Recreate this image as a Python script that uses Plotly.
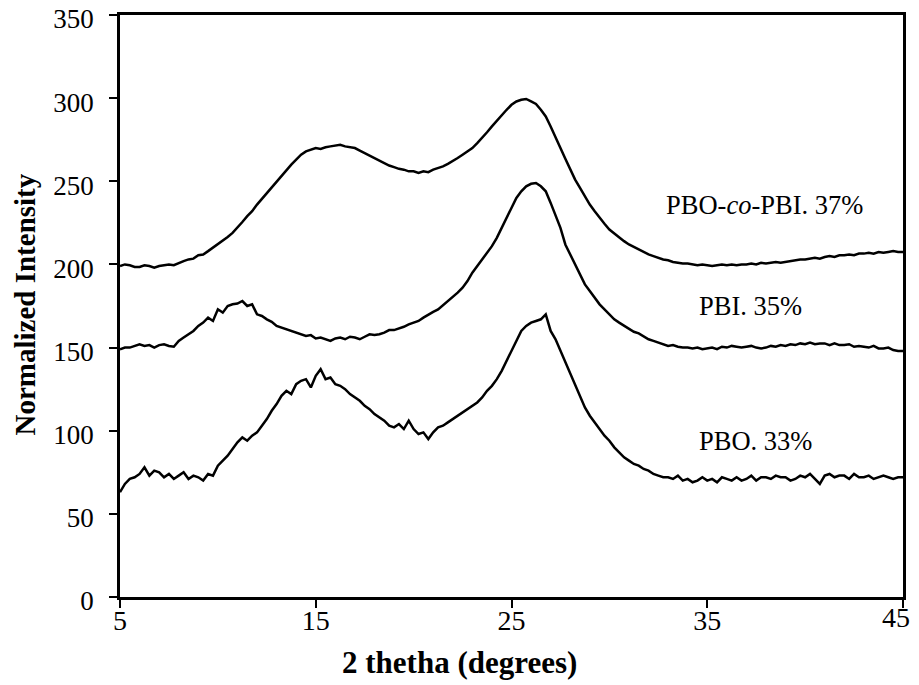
import plotly.graph_objects as go

# 2-theta grid (degrees), 0.25 deg sampling from 5 to 45
two_theta = [5 + 0.25 * i for i in range(161)]

pbo_co_pbi_37 = [
    199, 200, 199.5, 198.5, 198.5, 199.5, 199, 198, 199, 199.5, 200, 199.5,
    201, 202, 203, 203.5, 205.5, 206, 208, 210, 212, 214, 216.5, 219,
    222, 225.5, 229, 232, 236, 239.5, 243, 246, 250, 253.5, 257, 260,
    263, 266, 268, 269, 270, 269.5, 270.5, 271, 271.5, 272, 271, 270.5,
    270, 268.5, 267, 265.5, 264, 262.5, 261, 259.5, 258.5, 257.5, 257, 256,
    256, 255, 256, 255.5, 257, 258, 259, 260.5, 262, 264, 266, 268,
    270, 273, 276, 279.5, 283, 286.5, 290, 293, 296, 298, 299, 299.5,
    298, 296.5, 293, 289, 283, 277, 270, 263.5, 257, 251, 246, 241,
    236, 232, 228, 224.5, 221, 218.5, 216, 214, 212, 210.5, 209, 207.5,
    206, 205, 204, 203, 202.5, 201.5, 201, 200.5, 200.5, 200, 199.5, 200,
    199.5, 199, 199.5, 200, 199.5, 200, 199.5, 200, 200, 200.5, 200, 201,
    200.5, 201, 201.5, 201, 201.5, 202, 202.5, 203, 203, 203.5, 204, 203.5,
    204.5, 205, 204.5, 205.5, 205.5, 206, 205.5, 206.5, 206.5, 207, 206.5, 207.5,
    207, 207.5, 208, 207.5, 207.5,
]

pbi_35 = [
    149, 150, 150, 151, 152, 151, 151.5, 150, 151.5, 152, 151, 150.5,
    154, 156, 158, 160, 163, 165, 168, 166, 173, 171, 175, 176,
    176.5, 178, 175, 176, 170, 169, 167, 165.5, 163, 162, 161, 160,
    159, 158, 157, 157.5, 155.5, 156, 155, 154, 155.5, 156, 155, 156.5,
    156, 155, 156.5, 158, 157.5, 158, 159, 160.5, 160.5, 161.5, 162.5, 164,
    165, 166, 168, 170, 171.5, 173, 175.5, 177.5, 180, 183, 186, 190,
    195, 199, 203, 207, 211, 216, 222, 228, 235, 240, 244, 247,
    248.5, 249, 247, 244, 237, 229, 222, 212, 206, 199, 193, 188,
    184, 180, 176, 173, 170, 167, 165, 163, 161, 159.5, 158.5, 156.5,
    155, 154, 153, 152, 151, 151.5, 150.5, 150, 150, 149.5, 150, 149,
    149.5, 150, 149, 150.5, 150, 151, 150.5, 150, 150.5, 151, 150, 149.5,
    150, 151, 150.5, 151.5, 151, 152, 151.5, 152.5, 152, 153, 152, 152.5,
    152.5, 151.5, 152.5, 151.5, 151.5, 152, 150.5, 151, 150.5, 150, 151, 149.5,
    149.5, 150, 148.5, 148, 148,
]

pbo_33 = [
    63, 68, 71, 72, 74, 78, 73, 76, 75, 72, 74, 71,
    73, 75, 71, 73, 72, 70, 74, 73, 79, 82, 85, 89,
    93, 96, 94, 97, 99, 103, 107, 112, 116, 121, 124, 122,
    128, 130, 131, 126, 133, 137, 131, 132, 128, 127, 125, 122,
    120, 118, 115, 113, 110, 108, 106, 103, 102, 104, 101, 106,
    101, 98, 99, 95, 99, 102, 103, 105, 107, 109, 111, 113,
    115, 117, 120, 124, 127, 131, 136, 142, 148, 155, 160, 163,
    165, 166, 167, 170, 160, 155, 148, 141, 134, 127, 120, 114,
    109, 105, 101, 97, 94, 90, 87, 84, 82, 80, 79, 77,
    76, 74, 73, 72, 72, 71, 73, 70, 71, 69, 70, 72,
    70, 71, 69, 72, 71, 70, 72, 70, 71, 73, 70, 72,
    72, 71, 73, 72, 72, 70, 71, 73, 72, 74, 71, 68,
    73, 74, 72, 73, 73, 71, 74, 72, 72, 73, 71, 72,
    73, 72, 71, 72, 72,
]

series = [
    ("PBO-co-PBI. 37%", pbo_co_pbi_37),
    ("PBI. 35%", pbi_35),
    ("PBO. 33%", pbo_33),
]

labels = ["PBO-<i>co</i>-PBI. 37%", "PBI. 35%", "PBO. 33%"]
label_x = [32.8, 34.5, 34.5]
label_y = [236, 175, 94]

x_ticks = [5, 15, 25, 35, 45]
y_ticks = [0, 50, 100, 150, 200, 250, 300, 350]

x_title = "<b>2 thetha (degrees)</b>"
y_title = "<b>Normalized Intensity</b>"

FONT = "Liberation Serif, Times New Roman, serif"

fig = go.Figure()
for name, vals in series:
    fig.add_trace(go.Scatter(x=two_theta, y=vals, mode="lines", name=name,
                             line=dict(color="black", width=2.5),
                             showlegend=False))

for t, lx, ly in zip(labels, label_x, label_y):
    fig.add_annotation(x=lx, y=ly, text=t, showarrow=False, xanchor="left",
                       yanchor="middle", font=dict(family=FONT, size=26.5, color="black"))

# last x tick label drawn as annotation, nudged left so it stays inside the window
x_tick_text = [str(v) for v in x_ticks[:-1]] + [""]
fig.add_annotation(x=x_ticks[-1], xref="x", yref="paper", y=-0.036, text=str(x_ticks[-1]),
                   showarrow=False, xanchor="center", yanchor="middle", xshift=-7,
                   font=dict(family=FONT, size=28, color="black"))

# axis titles
fig.add_annotation(xref="paper", yref="paper", x=0.433, y=-0.113, text=x_title,
                   showarrow=False, xanchor="center", yanchor="middle",
                   font=dict(family=FONT, size=31, color="black"))
fig.add_annotation(xref="paper", yref="paper", x=-0.121, y=0.503, text=y_title,
                   showarrow=False, xanchor="center", yanchor="middle", textangle=-90,
                   font=dict(family=FONT, size=29, color="black"))

# page body has an 8px default margin, so the figure is sized to fit the window
fig.update_layout(
    width=911, height=677,
    margin=dict(l=112, r=16, t=7, b=88, autoexpand=False),
    paper_bgcolor="white", plot_bgcolor="white",
    font=dict(family=FONT, color="black"),
)
fig.update_xaxes(
    range=[5, 45], tickvals=x_ticks, ticktext=x_tick_text,
    showgrid=False, zeroline=False, showline=True, linecolor="black", linewidth=2.5,
    mirror=True, ticks="outside", ticklen=8, tickwidth=2, tickcolor="black",
    tickfont=dict(family=FONT, size=28, color="black"),
    ticklabelstandoff=-11, ticklabeloverflow="allow", automargin=False,
)
fig.update_yaxes(
    range=[0, 350], tickvals=y_ticks, ticktext=[str(v) for v in y_ticks],
    showgrid=False, zeroline=False, showline=True, linecolor="black", linewidth=2.5,
    mirror=True, ticks="outside", ticklen=8, tickwidth=2, tickcolor="black",
    tickfont=dict(family=FONT, size=27, color="black"),
    ticklabelstandoff=10, ticklabelshift=4, ticklabeloverflow="allow", automargin=False,
)

fig.write_html("out.html")
